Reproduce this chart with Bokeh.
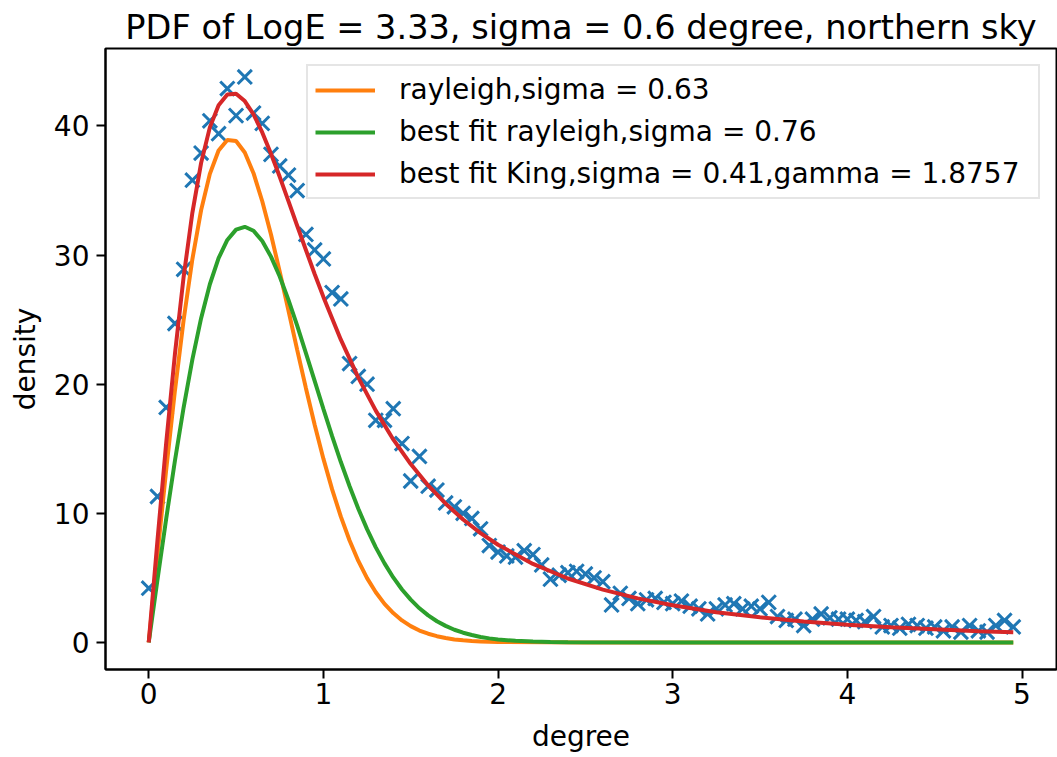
from bokeh.plotting import figure
from bokeh.models import Range1d, FixedTicker, Legend, LegendItem
from bokeh.embed import file_html
from bokeh.resources import INLINE

title_text = "PDF of LogE = 3.33, sigma = 0.6 degree, northern sky"
x_label = "degree"
y_label = "density"
x_ticks = [0, 1, 2, 3, 4, 5]
y_ticks = [0, 10, 20, 30, 40]

label_rayleigh = "rayleigh,sigma = 0.63"
label_fit_rayleigh = "best fit rayleigh,sigma = 0.76"
label_fit_king = "best fit King,sigma = 0.41,gamma = 1.8757"

# measured density histogram (x markers)
data_x = [0.00, 0.05, 0.10, 0.15, 0.20, 0.25, 0.30, 0.35, 0.40, 0.45,
          0.50, 0.55, 0.60, 0.65, 0.70, 0.75, 0.80, 0.85, 0.90, 0.95,
          1.00, 1.05, 1.10, 1.15, 1.20, 1.25, 1.30, 1.35, 1.40, 1.45,
          1.50, 1.55, 1.60, 1.65, 1.70, 1.75, 1.80, 1.85, 1.90, 1.95,
          2.00, 2.05, 2.10, 2.15, 2.20, 2.25, 2.30, 2.35, 2.40, 2.45,
          2.50, 2.55, 2.60, 2.65, 2.70, 2.75, 2.80, 2.85, 2.90, 2.95,
          3.00, 3.05, 3.10, 3.15, 3.20, 3.25, 3.30, 3.35, 3.40, 3.45,
          3.50, 3.55, 3.60, 3.65, 3.70, 3.75, 3.80, 3.85, 3.90, 3.95,
          4.00, 4.05, 4.10, 4.15, 4.20, 4.25, 4.30, 4.35, 4.40, 4.45,
          4.50, 4.55, 4.60, 4.65, 4.70, 4.75, 4.80, 4.85, 4.90, 4.95]
data_y = [4.2, 11.3, 18.2, 24.7, 28.9, 35.8, 37.9, 40.4, 39.4, 42.9,
          40.8, 43.8, 41.0, 40.2, 37.8, 36.9, 36.2, 35.0, 31.6, 30.4,
          29.7, 27.1, 26.6, 21.6, 20.6, 20.0, 17.2, 17.2, 18.1, 15.4,
          12.5, 14.4, 12.1, 11.8, 10.8, 10.5, 10.0, 9.6, 8.8, 7.5,
          7.0, 6.7, 6.6, 7.1, 6.8, 6.0, 4.9, 5.2, 5.4, 5.5,
          5.3, 5.0, 4.7, 2.9, 3.8, 3.4, 3.0, 3.3, 3.4, 3.1,
          3.0, 3.2, 2.8, 2.6, 2.2, 2.6, 2.9, 3.0, 2.6, 2.8,
          2.6, 3.1, 2.0, 1.7, 1.8, 1.3, 1.8, 2.2, 1.9, 1.8,
          1.8, 1.7, 1.6, 2.0, 1.2, 1.3, 1.1, 1.4, 1.3, 1.1,
          1.2, 0.9, 1.2, 0.8, 1.3, 0.9, 0.8, 1.3, 1.7, 1.2]

# orange curve: rayleigh, sigma = 0.63
orange_x = [0.00, 0.05, 0.10, 0.15, 0.20, 0.25, 0.30, 0.35, 0.40, 0.45,
            0.50, 0.55, 0.60, 0.65, 0.70, 0.75, 0.80, 0.85, 0.90, 0.95,
            1.00, 1.05, 1.10, 1.15, 1.20, 1.25, 1.30, 1.35, 1.40, 1.45,
            1.50, 1.55, 1.60, 1.65, 1.70, 1.75, 1.80, 1.85, 1.90, 1.95,
            2.00, 2.50, 3.00, 3.50, 4.00, 4.50, 4.95]
orange_y = [0.0, 6.80, 13.37, 19.50, 24.99, 29.69, 33.48, 36.29, 38.10, 38.92,
            38.84, 37.94, 36.34, 34.17, 31.59, 28.72, 25.71, 22.66, 19.69, 16.86,
            14.23, 11.85, 9.74, 7.89, 6.31, 4.98, 3.88, 2.98, 2.27, 1.70,
            1.26, 0.92, 0.67, 0.48, 0.34, 0.23, 0.16, 0.11, 0.07, 0.05,
            0.03, 0.0, 0.0, 0.0, 0.0, 0.0, 0.0]

# green curve: best fit rayleigh, sigma = 0.76
green_x = [0.00, 0.05, 0.10, 0.15, 0.20, 0.25, 0.30, 0.35, 0.40, 0.45,
           0.50, 0.55, 0.60, 0.65, 0.70, 0.75, 0.80, 0.85, 0.90, 0.95,
           1.00, 1.05, 1.10, 1.15, 1.20, 1.25, 1.30, 1.35, 1.40, 1.45,
           1.50, 1.55, 1.60, 1.65, 1.70, 1.75, 1.80, 1.85, 1.90, 1.95,
           2.00, 2.10, 2.20, 2.30, 2.40, 3.00, 4.00, 4.95]
green_y = [0.0, 4.85, 9.58, 14.07, 18.21, 21.92, 25.11, 27.74, 29.76, 31.17,
           31.97, 32.19, 31.88, 31.09, 29.88, 28.34, 26.53, 24.53, 22.41, 20.25,
           18.09, 15.98, 13.97, 12.09, 10.35, 8.77, 7.36, 6.12, 5.03, 4.10,
           3.31, 2.64, 2.09, 1.64, 1.28, 0.98, 0.75, 0.57, 0.42, 0.31,
           0.23, 0.12, 0.06, 0.03, 0.01, 0.0, 0.0, 0.0]

# red curve: best fit King
red_x = [0.00, 0.05, 0.10, 0.15, 0.20, 0.25, 0.30, 0.35, 0.40, 0.45,
         0.50, 0.55, 0.60, 0.65, 0.70, 0.75, 0.80, 0.85, 0.90, 0.95,
         1.00, 1.10, 1.20, 1.30, 1.40, 1.50, 1.60, 1.70, 1.80, 1.90,
         2.00, 2.20, 2.40, 2.60, 2.80, 3.00, 3.25, 3.50, 3.75, 4.00,
         4.25, 4.50, 4.75, 4.95]
red_y = [0.0, 7.89, 15.44, 22.33, 28.33, 33.29, 37.14, 39.89, 41.61, 42.44,
         42.50, 41.93, 40.90, 39.50, 37.85, 36.06, 34.18, 32.27, 30.39, 28.53,
         26.76, 23.45, 20.51, 17.95, 15.72, 13.81, 12.16, 10.74, 9.52, 8.46,
         7.56, 6.08, 4.95, 4.09, 3.41, 2.87, 2.34, 1.94, 1.62, 1.37,
         1.17, 1.01, 0.87, 0.78]

FONT = "DejaVu Sans"

p = figure(width=1057, height=757,
           x_range=Range1d(-0.2475, 5.1975), y_range=Range1d(-2.1, 46.0),
           output_backend="svg", toolbar_location=None,
           min_border_left=105, min_border_right=1,
           min_border_top=48, min_border_bottom=88)

p.title.text = title_text
p.title.text_font = FONT
p.title.text_font_size = "33.6px"
p.title.text_font_style = "normal"
p.title.align = "center"
p.title.text_color = "black"
p.title.standoff = 4

p.grid.visible = False
p.outline_line_color = "black"
p.outline_line_width = 2
p.outline_line_alpha = 1.0
p.background_fill_color = "white"
p.border_fill_color = "white"

for ax in (p.xaxis[0], p.yaxis[0]):
    ax.axis_line_color = "black"
    ax.axis_line_width = 2
    ax.major_tick_line_color = "black"
    ax.major_tick_line_width = 2
    ax.major_tick_out = 9
    ax.major_tick_in = 0
    ax.minor_tick_line_color = None
    ax.major_label_text_font = FONT
    ax.major_label_text_font_size = "28px"
    ax.major_label_text_color = "black"
    ax.axis_label_text_font = FONT
    ax.axis_label_text_font_size = "28px"
    ax.axis_label_text_font_style = "normal"
    ax.axis_label_text_color = "black"

p.xaxis.major_label_standoff = 4
p.yaxis.major_label_standoff = 7
p.xaxis.ticker = FixedTicker(ticks=x_ticks)
p.yaxis.ticker = FixedTicker(ticks=y_ticks)
p.xaxis.axis_label = x_label
p.yaxis.axis_label = y_label
p.xaxis.axis_label_standoff = 13
p.yaxis.axis_label_standoff = 9

p.scatter(data_x, data_y, marker="x", size=20, line_color="#1f77b4", line_width=3)
r1 = p.line(orange_x, orange_y, line_color="#ff7f0e", line_width=4)
r2 = p.line(green_x, green_y, line_color="#2ca02c", line_width=4)
r3 = p.line(red_x, red_y, line_color="#d62728", line_width=4)

legend = Legend(items=[LegendItem(label=label_rayleigh, renderers=[r1]),
                       LegendItem(label=label_fit_rayleigh, renderers=[r2]),
                       LegendItem(label=label_fit_king, renderers=[r3])],
                location="top_right")
legend.label_text_font = FONT
legend.label_text_font_size = "28px"
legend.label_text_color = "black"
legend.glyph_width = 60
legend.glyph_height = 28
legend.label_height = 28
legend.label_width = 632
legend.label_standoff = 24
legend.spacing = 9
legend.padding = 7
legend.margin = 16
legend.border_line_color = "#cccccc"
legend.border_line_width = 2
legend.background_fill_alpha = 0.8
p.add_layout(legend)

open("out.html", "w").write(file_html(p, INLINE))
